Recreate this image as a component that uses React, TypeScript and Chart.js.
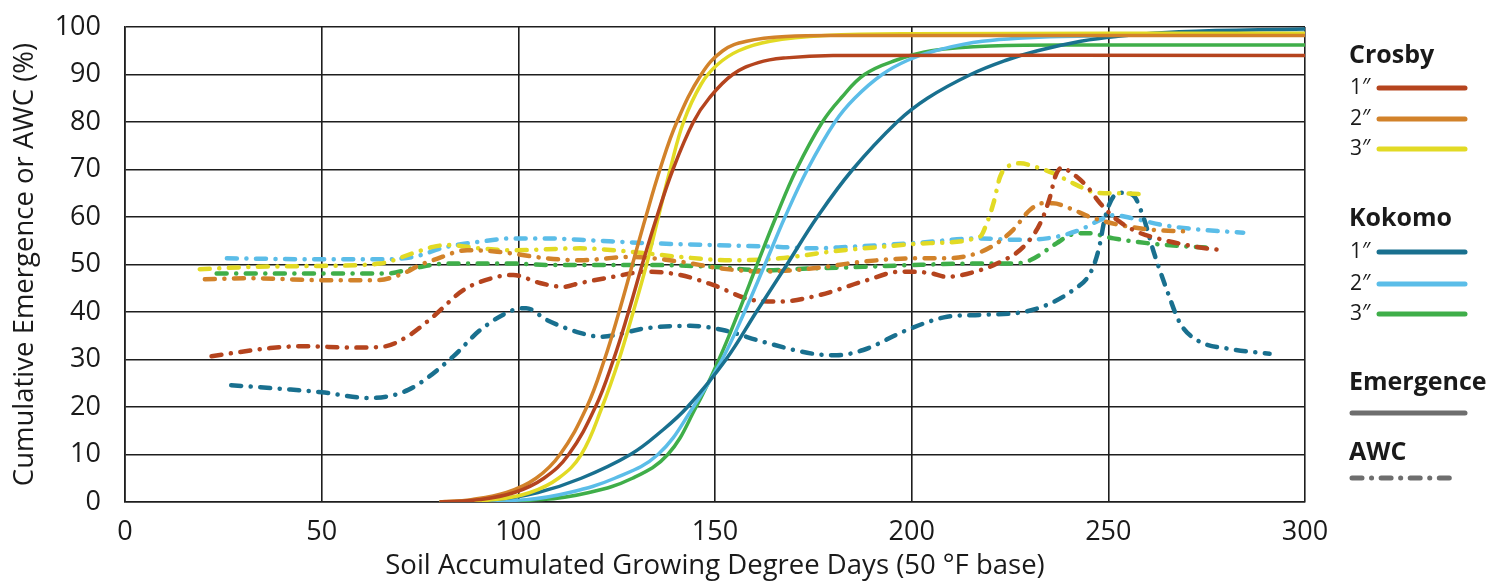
import React, { useEffect, useRef } from "react";
import { Chart, registerables } from "chart.js";

Chart.register(...registerables);

// ---------- Data ----------
const xTickValues = [0, 50, 100, 150, 200, 250, 300];
const yTickValues = [0, 10, 20, 30, 40, 50, 60, 70, 80, 90, 100];

const siteNames = ["Crosby", "Kokomo"];
const depthLabels = ["1″", "2″", "3″"];

// Emergence (solid) curves
const crosby1EmX = [80, 90, 99, 106.5, 112.8, 119.6, 124.2, 128, 131.5, 135.2, 139.3, 144.5, 148.5, 154.5, 161, 168, 180, 300];
const crosby1EmY = [0, 0.5, 2, 5, 10, 20, 30, 40, 50, 60, 70, 80, 85, 90, 92.5, 93.5, 94, 94];
const crosby2EmX = [80, 88, 97, 104.5, 110.6, 117.4, 121.9, 125.6, 129, 132.4, 136, 140.3, 146.5, 152, 158, 168, 185, 300];
const crosby2EmY = [0, 0.5, 2, 5, 10, 20, 30, 40, 50, 60, 70, 80, 90, 95, 97, 98, 98.2, 98.2];
const crosby3EmX = [80, 94, 103, 110.2, 116, 121.3, 125.6, 129.2, 132.6, 135.6, 138.6, 142, 146.5, 150.5, 156, 164, 178, 200, 300];
const crosby3EmY = [0, 0.5, 2, 5, 10, 20, 30, 40, 50, 60, 70, 80, 88, 92, 95, 97, 98.2, 98.6, 98.7];
const kokomo1EmX = [80, 94, 105, 116, 128.5, 136.5, 143, 152.8, 160.5, 168.3, 176, 185, 196.3, 204, 215, 224, 232, 243, 252, 268, 300];
const kokomo1EmY = [0, 0.5, 2, 5, 10, 15, 20, 30, 40, 50, 60, 70, 80, 85, 90, 93, 95, 97, 98, 99, 99.6];
const kokomo2EmX = [80, 102, 113, 124.5, 135.5, 144.5, 151.8, 157.5, 162.7, 167.8, 173.5, 180.5, 185.5, 192.5, 199, 206, 218, 238, 300];
const kokomo2EmY = [0, 0.5, 2, 5, 10, 20, 30, 40, 50, 60, 70, 80, 85, 90, 93, 95, 97, 98, 98.7];
const kokomo3EmX = [80, 106, 118, 129, 138, 145.2, 151, 156, 160.7, 165.5, 170.7, 177.3, 182, 188, 196, 205, 220, 250, 300];
const kokomo3EmY = [0, 0.5, 2, 5, 10, 20, 30, 40, 50, 60, 70, 80, 85, 90, 93, 95, 96, 96.2, 96.2];

// AWC (dash-dot) curves
const crosby1AwcX = [22, 36.9, 45.3, 58, 65.6, 71.7, 78.3, 86, 94.6, 98.7, 105.5, 111.4, 115.7, 124.1, 132.7, 141.1, 149.5, 159.7, 166.5, 176.7, 188.6, 197, 204.7, 209, 217.4, 221.7, 228.4, 232.7, 235.2, 236.5, 238.2, 240.3, 244.6, 247.9, 252.2, 257.3, 263.9, 272.5, 278.9];
const crosby1AwcY = [30.7, 32.4, 32.8, 32.5, 32.7, 34.8, 39, 44.6, 47.4, 47.8, 46.1, 45.3, 46.1, 47.4, 48.5, 47.8, 45.7, 42.5, 42.2, 43.6, 46.7, 48.5, 48.2, 47.4, 48.8, 50.2, 53.7, 58.7, 64.3, 68.5, 70.4, 69.5, 66.4, 62.9, 59.4, 56.9, 55.2, 53.7, 53];
const crosby2AwcX = [20.3, 32.6, 49.6, 64, 70.7, 75, 78.3, 87, 94.6, 107.3, 115.7, 128.4, 141.1, 151.3, 162.3, 175, 187.7, 200.4, 209, 217.4, 221.7, 225.8, 230.1, 233.4, 235.9, 240.3, 245.4, 253, 261.4, 271.3];
const crosby2AwcY = [46.9, 47.1, 46.7, 46.7, 48.1, 49.9, 50.9, 53, 52.7, 51.3, 50.9, 51.6, 50.6, 49.2, 48.5, 49.2, 50.6, 51.3, 51.3, 52.6, 54.5, 57.3, 61.5, 62.9, 62.9, 61.8, 60, 58.3, 57.3, 56.9];
const crosby3AwcX = [19, 32.6, 49.6, 64.8, 73.3, 78.3, 81.8, 90.3, 98.7, 115.7, 128.4, 141.1, 153.8, 166.5, 179.3, 192, 204.7, 217.4, 219.1, 220.8, 222.5, 225, 227.6, 230.9, 236, 242, 247.1, 253, 258.1];
const crosby3AwcY = [49, 49.5, 49.7, 50.2, 52.4, 53.7, 54.1, 53.4, 53, 53.4, 52.7, 51.6, 50.9, 51.3, 52.7, 53.7, 54.5, 55.9, 58.7, 62.9, 68.5, 70.9, 71.3, 70.7, 69.2, 66.7, 65.1, 65, 64.8];
const kokomo1AwcX = [27, 40, 50, 62, 72, 83.4, 90.3, 98.7, 102, 107.3, 115.7, 121, 132.6, 143.7, 152, 162.3, 175, 181, 187.7, 198.8, 209, 217.4, 228.4, 234.4, 241, 245.4, 247.5, 249.2, 251.3, 253.8, 256.3, 258.9, 261.4, 264.9, 268.2, 272.5, 281, 291];
const kokomo1AwcY = [24.6, 23.8, 23.1, 21.9, 23.6, 30.6, 36.2, 40.4, 40.8, 38.3, 35.6, 34.8, 36.6, 37.1, 36.2, 33.7, 31.2, 30.9, 32, 36.2, 39, 39.4, 40, 41.5, 44.6, 48.2, 53, 60, 64.3, 65.1, 64.6, 60, 53, 44.6, 37.7, 34.1, 32.2, 31.2];
const kokomo2AwcX = [25.9, 49.6, 66.6, 73.3, 81.8, 90.3, 98.7, 107.3, 115.7, 132.7, 149.5, 166.5, 175, 183.6, 200.4, 217.4, 225.8, 234.4, 242.8, 247.9, 251.3, 256.3, 263.9, 272.5, 284.3];
const kokomo2AwcY = [51.3, 51.1, 51.1, 51.6, 53.7, 54.8, 55.5, 55.5, 55.2, 54.5, 54.1, 53.7, 53.4, 53.7, 54.5, 55.5, 55.2, 55.5, 57.3, 59.4, 60.4, 59.7, 58.3, 57.4, 56.7];
const kokomo3AwcX = [23.3, 41.1, 58, 66.6, 73.3, 81.8, 90.3, 98.7, 107.3, 115.7, 132.7, 149.5, 162.3, 175, 187.7, 200.4, 217.4, 225.8, 230.1, 236.9, 240.3, 244.6, 251.3, 259.8, 268.2, 276.6];
const kokomo3AwcY = [48.1, 48.1, 48.1, 48.1, 49.2, 50.2, 50.2, 50.2, 49.9, 49.9, 49.9, 49.5, 48.8, 49.2, 49.5, 49.9, 50.2, 50.2, 50.9, 54.5, 56.2, 56.6, 55.5, 54.5, 53.9, 53.5];

// ---------- Styles ----------
const seriesColors = ["#B5441E", "#D2822A", "#E2DA24", "#19708F", "#5BBDE8", "#3FAE49"];
const FONT = '"Open Sans", "Noto Sans", sans-serif';
const TEXT = "#1a1a1a";
const GRID = "#1e1e1e";
const AWC_DASH = [10, 9.5, 0.1, 9.5];

const pts = (xs: number[], ys: number[]) => xs.map((x, i) => ({ x, y: ys[i] }));

const emergence = [
  pts(crosby1EmX, crosby1EmY),
  pts(crosby2EmX, crosby2EmY),
  pts(crosby3EmX, crosby3EmY),
  pts(kokomo1EmX, kokomo1EmY),
  pts(kokomo2EmX, kokomo2EmY),
  pts(kokomo3EmX, kokomo3EmY),
];
const awc = [
  pts(crosby1AwcX, crosby1AwcY),
  pts(crosby2AwcX, crosby2AwcY),
  pts(crosby3AwcX, crosby3AwcY),
  pts(kokomo1AwcX, kokomo1AwcY),
  pts(kokomo2AwcX, kokomo2AwcY),
  pts(kokomo3AwcX, kokomo3AwcY),
];

const legendPlugin = {
  id: "customLegend",
  afterDraw(chart: any) {
    const ctx = chart.ctx as CanvasRenderingContext2D;
    ctx.save();
    const headX = 1349;
    const lineX0 = 1379;
    const lineX1 = 1465;
    const drawHead = (t: string, y: number) => {
      ctx.font = `bold 25px ${FONT}`;
      ctx.fillStyle = TEXT;
      ctx.textBaseline = "alphabetic";
      ctx.textAlign = "left";
      ctx.fillText(t, headX, y);
    };
    const drawLine = (x0: number, x1: number, y: number, color: string, dash: number[]) => {
      ctx.beginPath();
      ctx.setLineDash(dash);
      ctx.lineCap = "round";
      ctx.lineWidth = 5;
      ctx.strokeStyle = color;
      ctx.moveTo(x0, y);
      ctx.lineTo(x1, y);
      ctx.stroke();
      ctx.setLineDash([]);
    };
    const groups = [
      { head: 63, rows: [88, 119, 149] },
      { head: 226, rows: [252, 284, 314] },
    ];
    groups.forEach((g, gi) => {
      drawHead(siteNames[gi], g.head);
      g.rows.forEach((y, ri) => {
        ctx.font = `21px ${FONT}`;
        ctx.fillStyle = TEXT;
        ctx.textBaseline = "middle";
        ctx.fillText(depthLabels[ri], 1350, y);
        drawLine(lineX0, lineX1, y, seriesColors[gi * 3 + ri], []);
      });
    });
    drawHead("Emergence", 390);
    drawLine(1352, 1465, 413, "#6e6e6e", []);
    drawHead("AWC", 460);
    drawLine(1352, 1455, 478, "#6e6e6e", AWC_DASH);
    ctx.restore();
  },
};

export default function App() {
  const ref = useRef<HTMLCanvasElement>(null);
  useEffect(() => {
    if (!ref.current) return;
    const datasets: any[] = [];
    emergence.forEach((d, i) => {
      datasets.push({
        label: `${siteNames[Math.floor(i / 3)]} ${depthLabels[i % 3]} Emergence`,
        data: d,
        borderColor: seriesColors[i],
        borderWidth: 3.5,
        pointRadius: 0,
        fill: false,
        tension: 0.4,
      });
    });
    awc.forEach((d, i) => {
      datasets.push({
        label: `${siteNames[Math.floor(i / 3)]} ${depthLabels[i % 3]} AWC`,
        data: d,
        borderColor: seriesColors[i],
        borderWidth: 4.5,
        borderDash: AWC_DASH,
        borderCapStyle: "round",
        pointRadius: 0,
        fill: false,
        cubicInterpolationMode: "monotone",
      });
    });
    const chart = new Chart(ref.current, {
      type: "line",
      data: { datasets },
      plugins: [legendPlugin],
      options: {
        animation: false,
        responsive: false,
        devicePixelRatio: 1,
        layout: { padding: { left: 0, right: 191, top: 27, bottom: 0 } },
        plugins: { legend: { display: false }, tooltip: { enabled: false } },
        scales: {
          x: {
            type: "linear",
            min: 0,
            max: 300,
            afterFit: (s: any) => {
              s.height = 82;
              s.paddingLeft = 0;
              s.paddingRight = 0;
            },
            afterBuildTicks: (s: any) => { s.ticks = xTickValues.map((v) => ({ value: v })); },
            grid: { color: GRID, lineWidth: 1.6, drawTicks: false },
            border: { color: GRID, width: 1.6 },
            ticks: { color: TEXT, font: { family: FONT, size: 27 }, padding: 14, maxRotation: 0 },
            title: {
              display: true,
              text: "Soil Accumulated Growing Degree Days (50 °F base)",
              color: TEXT,
              font: { family: FONT, size: 27.5 },
              padding: { top: 0, bottom: 1 },
            },
          },
          y: {
            type: "linear",
            min: 0,
            max: 100,
            afterFit: (s: any) => {
              s.width = 125;
              s.paddingTop = 0;
              s.paddingBottom = 0;
            },
            afterBuildTicks: (s: any) => { s.ticks = yTickValues.map((v) => ({ value: v })); },
            grid: { color: GRID, lineWidth: 1.6, drawTicks: false },
            border: { color: GRID, width: 1.6 },
            ticks: { color: TEXT, font: { family: FONT, size: 27 }, padding: 24 },
            title: {
              display: true,
              text: "Cumulative Emergence or AWC (%)",
              color: TEXT,
              font: { family: FONT, size: 27.5 },
              padding: { top: 9, bottom: 0 },
            },
          },
        },
      } as any,
    });
    return () => chart.destroy();
  }, []);
  return (
    <div style={{ position: "absolute", left: 0, top: 0, width: 1496, height: 584, background: "#fff" }}>
      <canvas ref={ref} width={1496} height={584} style={{ width: 1496, height: 584, display: "block" }} />
    </div>
  );
}
